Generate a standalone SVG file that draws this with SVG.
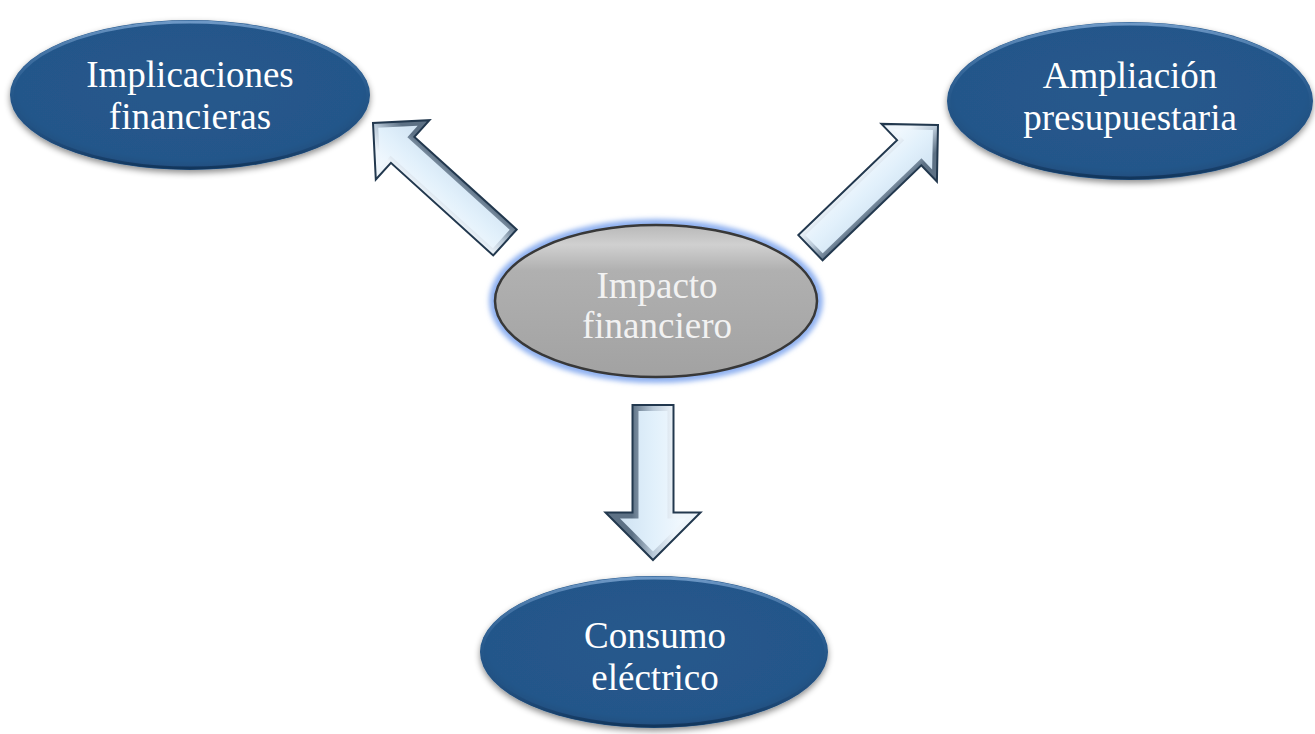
<svg xmlns="http://www.w3.org/2000/svg" width="1315" height="734" viewBox="0 0 1315 734">
  <style>
    .lbl { font-family: "Liberation Serif", "Times New Roman", serif; font-size: 37px; text-anchor: middle; }
    .blue-lbl { fill: #ffffff; }
    .gray-lbl { fill: #f2f2f2; }
    .blue-body { fill: url(#blueFill); filter: url(#shadow); }
    .blue-rim { fill: none; stroke: url(#rim); stroke-width: 3; }
    .arrow-out { stroke: #22384e; stroke-width: 2; stroke-linejoin: miter; }
    .arrow-in { fill: url(#face); }
  </style>
  <defs>
    <radialGradient id="blueFill" cx="0.5" cy="0.45" r="0.6">
      <stop offset="0" stop-color="#27598c"/>
      <stop offset="0.8" stop-color="#24568a"/>
      <stop offset="1" stop-color="#1b4673"/>
    </radialGradient>
    <linearGradient id="rim" x1="0" y1="0" x2="0" y2="1">
      <stop offset="0" stop-color="#6d98c6"/>
      <stop offset="0.35" stop-color="#3c6c9e" stop-opacity="0.6"/>
      <stop offset="0.6" stop-color="#24568a" stop-opacity="0"/>
      <stop offset="1" stop-color="#12365c"/>
    </linearGradient>
    <linearGradient id="grayFill" x1="0" y1="0" x2="0" y2="1">
      <stop offset="0" stop-color="#b8b8b8"/>
      <stop offset="0.13" stop-color="#d0d0d0"/>
      <stop offset="0.3" stop-color="#b0b0b0"/>
      <stop offset="1" stop-color="#a2a2a2"/>
    </linearGradient>
    <linearGradient id="bevelD" gradientUnits="userSpaceOnUse" x1="0" y1="-18" x2="0" y2="18">
      <stop offset="0" stop-color="#eef5fb"/>
      <stop offset="0.5" stop-color="#b9c9d8"/>
      <stop offset="1" stop-color="#5d7185"/>
    </linearGradient>
    <linearGradient id="bevelV" gradientUnits="userSpaceOnUse" x1="0" y1="-21" x2="0" y2="21">
      <stop offset="0" stop-color="#eef5fb"/>
      <stop offset="0.5" stop-color="#b9c9d8"/>
      <stop offset="1" stop-color="#5d7185"/>
    </linearGradient>
    <linearGradient id="face" x1="0" y1="0" x2="0" y2="1">
      <stop offset="0" stop-color="#f3f9fe"/>
      <stop offset="0.5" stop-color="#e1f0fb"/>
      <stop offset="1" stop-color="#cfe2f2"/>
    </linearGradient>
    <filter id="shadow" x="-10%" y="-10%" width="120%" height="130%">
      <feDropShadow dx="0" dy="3" stdDeviation="3" flood-color="#000000" flood-opacity="0.45"/>
    </filter>
    <filter id="glow" x="-10%" y="-20%" width="120%" height="140%">
      <feGaussianBlur stdDeviation="2.5"/>
    </filter>
  </defs>

  <g id="connectors">
    <g id="arrow-to-implicaciones" transform="translate(373,123) rotate(-137.85)">
      <polygon class="arrow-out" fill="url(#bevelD)" points="0,0 -40,-40 -40,-17.5 -178,-17.5 -178,17.5 -40,17.5 -40,40"/>
      <polygon class="arrow-in" points="-7.07,0 -35,-27.93 -35,-12.5 -173,-12.5 -173,12.5 -35,12.5 -35,27.93"/>
    </g>
    <g id="arrow-to-ampliacion" transform="translate(938,125) rotate(-43.9)">
      <polygon class="arrow-out" fill="url(#bevelD)" points="0,0 -40,-40 -40,-17.5 -177,-17.5 -177,17.5 -40,17.5 -40,40"/>
      <polygon class="arrow-in" points="-7.07,0 -35,-27.93 -35,-12.5 -172,-12.5 -172,12.5 -35,12.5 -35,27.93"/>
    </g>
    <g id="arrow-to-consumo" transform="translate(653,560) rotate(90)">
      <polygon class="arrow-out" fill="url(#bevelV)" points="0,0 -47.5,-47.5 -47.5,-20.5 -155,-20.5 -155,20.5 -47.5,20.5 -47.5,47.5"/>
      <polygon class="arrow-in" points="-8.49,0 -41.5,-33 -41.5,-14.5 -149,-14.5 -149,14.5 -41.5,14.5 -41.5,33"/>
    </g>
  </g>

  <g id="node-implicaciones">
    <ellipse class="blue-body" cx="190" cy="95" rx="180" ry="75"/>
    <ellipse class="blue-rim" cx="190" cy="95" rx="178" ry="73"/>
    <text class="lbl blue-lbl" x="190" y="87">Implicaciones</text>
    <text class="lbl blue-lbl" x="190" y="129">financieras</text>
  </g>

  <g id="node-ampliacion">
    <ellipse class="blue-body" cx="1130" cy="101" rx="183" ry="79"/>
    <ellipse class="blue-rim" cx="1130" cy="101" rx="181" ry="77"/>
    <text class="lbl blue-lbl" x="1130" y="88">Ampliación</text>
    <text class="lbl blue-lbl" x="1130" y="130">presupuestaria</text>
  </g>

  <g id="node-impacto">
    <ellipse cx="656" cy="301" rx="167" ry="82" fill="#8fb1f0" filter="url(#glow)"/>
    <ellipse cx="656" cy="301" rx="161" ry="76" fill="url(#grayFill)" stroke="#383838" stroke-width="2.5"/>
    <text class="lbl gray-lbl" x="657" y="298">Impacto</text>
    <text class="lbl gray-lbl" x="657" y="338">financiero</text>
  </g>

  <g id="node-consumo">
    <ellipse class="blue-body" cx="654" cy="652" rx="174" ry="76"/>
    <ellipse class="blue-rim" cx="654" cy="652" rx="172" ry="74"/>
    <text class="lbl blue-lbl" x="655" y="648">Consumo</text>
    <text class="lbl blue-lbl" x="655" y="690">eléctrico</text>
  </g>
</svg>
